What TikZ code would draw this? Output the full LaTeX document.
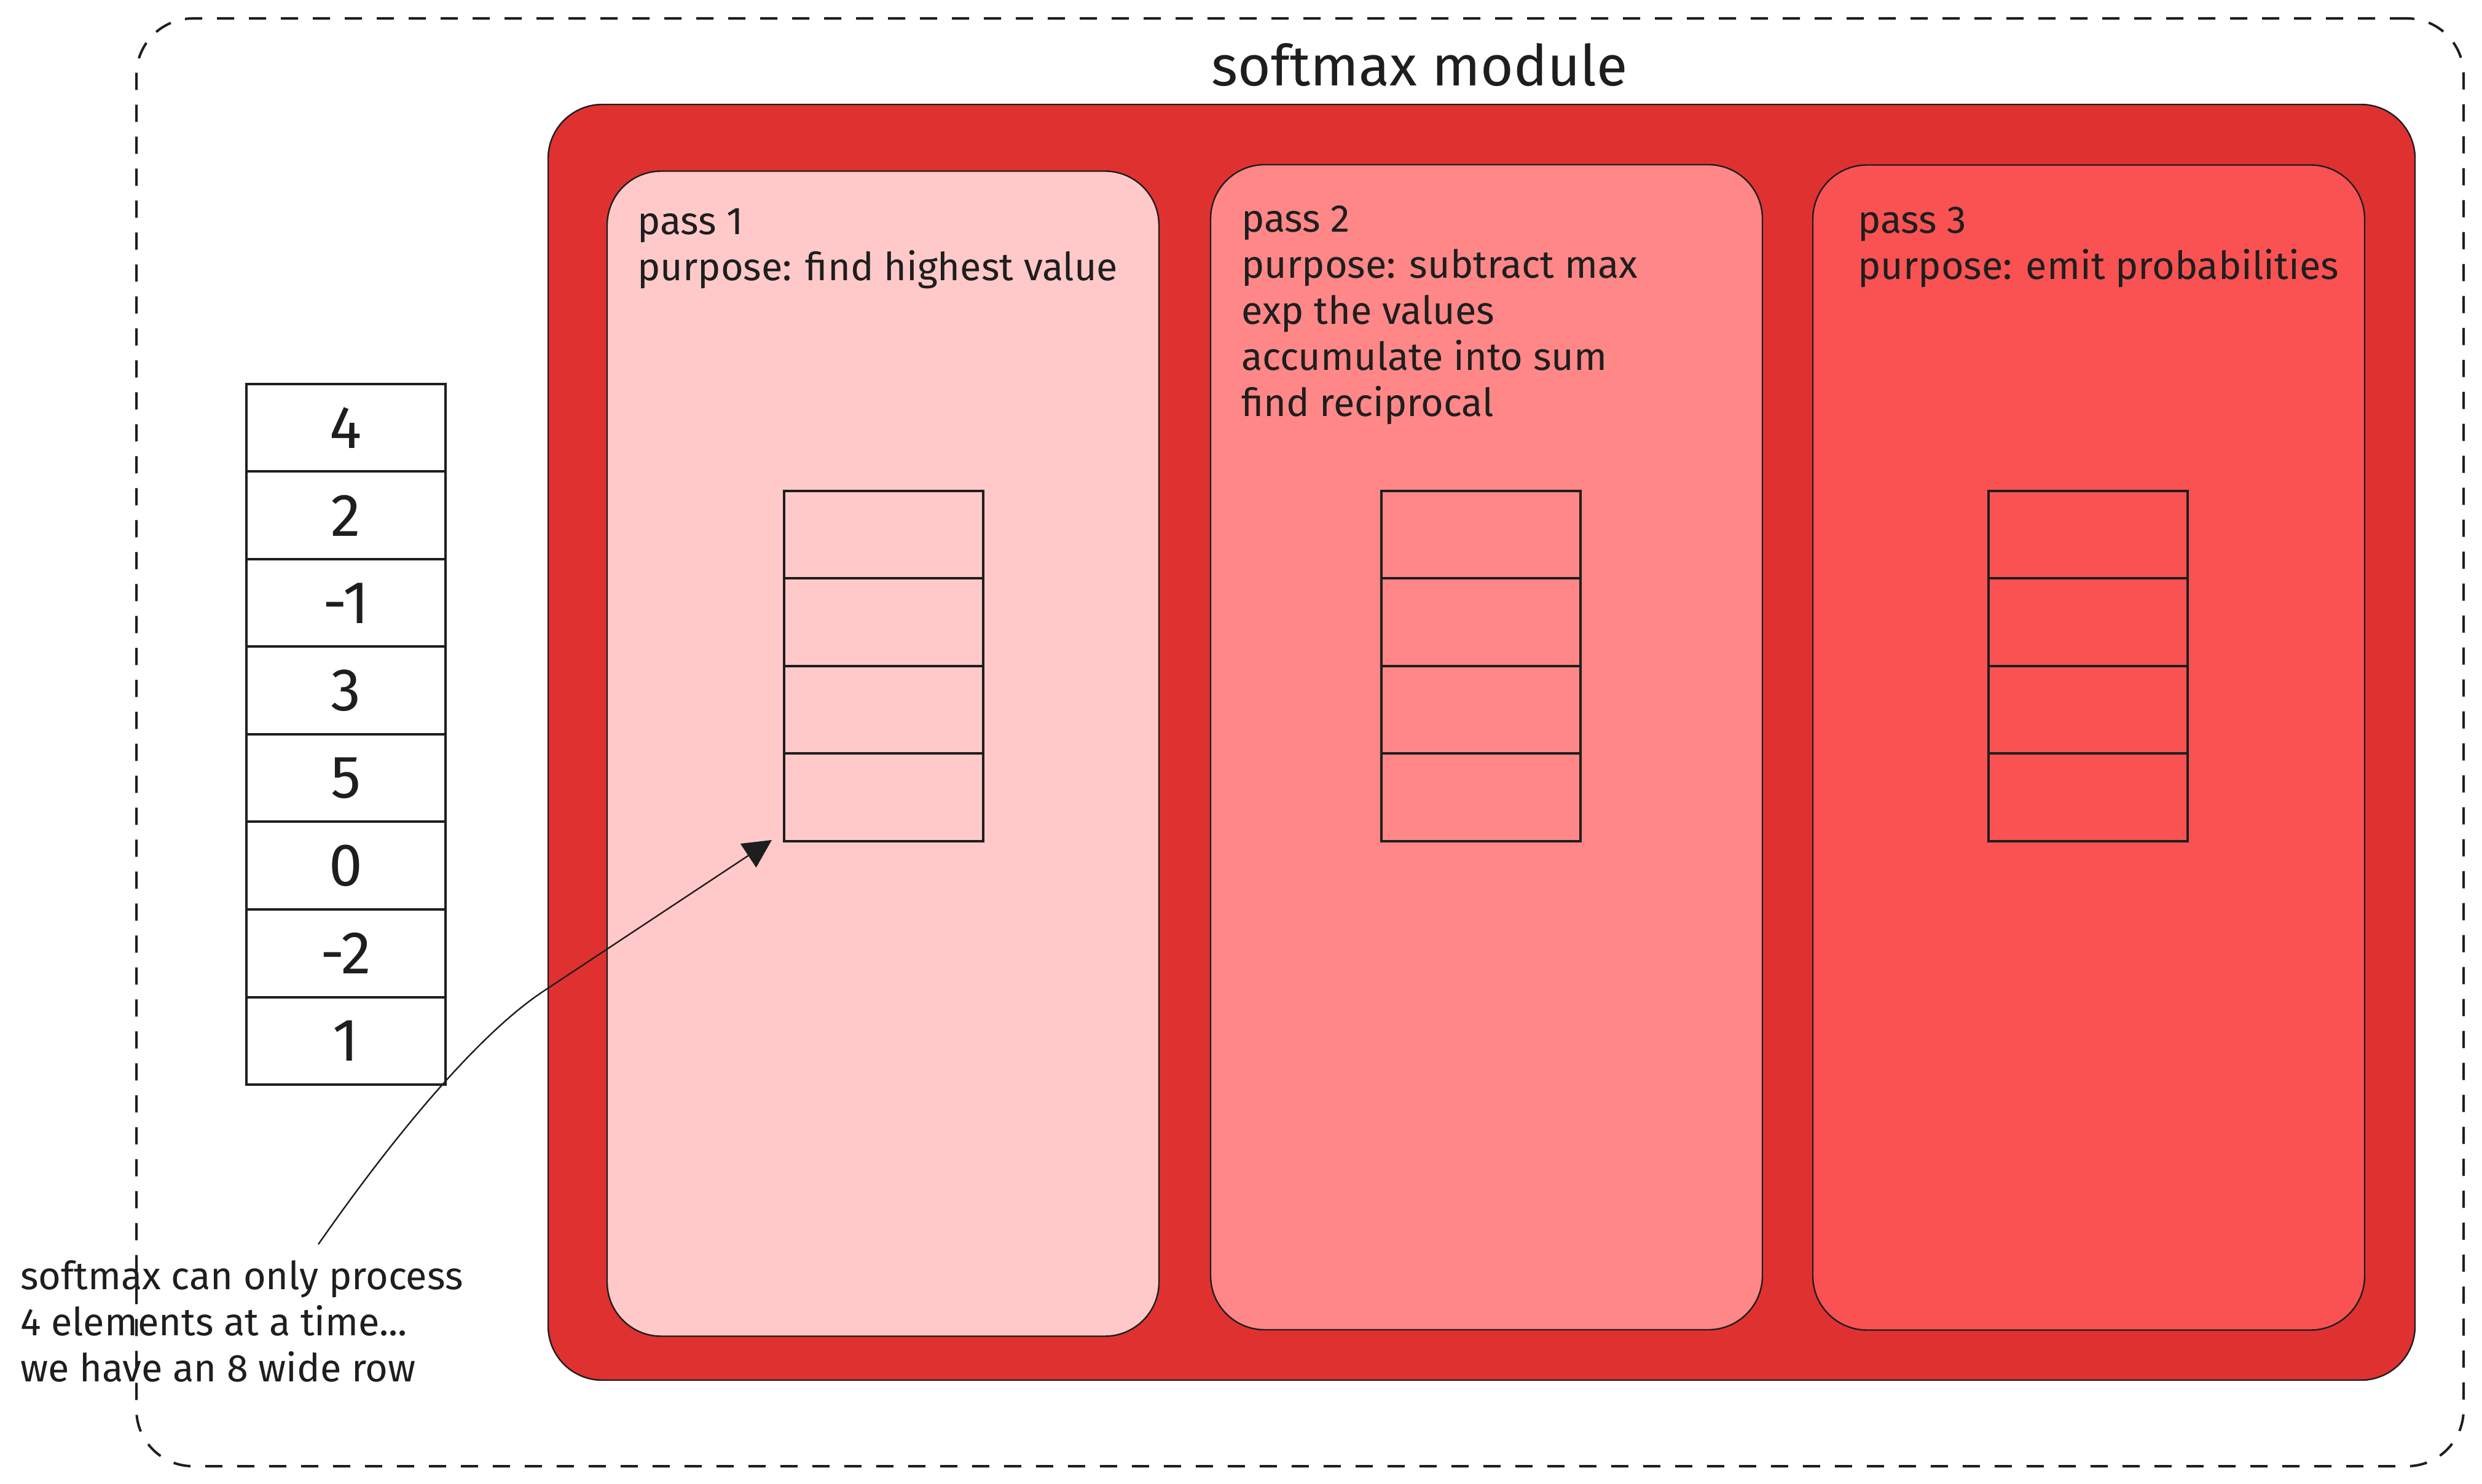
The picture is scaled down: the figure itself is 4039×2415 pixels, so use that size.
\documentclass[tikz,border=0pt]{standalone}
\usepackage{fontspec}
\setmainfont{Fira Sans}
\usetikzlibrary{arrows.meta}

\definecolor{ink}{HTML}{1E1E1E}
\definecolor{modred}{HTML}{E03131}
\definecolor{passone}{HTML}{FFC9C9}
\definecolor{passtwo}{HTML}{FF8787}
\definecolor{passthree}{HTML}{FA5252}

\tikzset{every picture/.style={line width=0.6pt}}
\tikzset{
	panel/.style={draw=ink, rounded corners=22pt, minimum width=224.5pt, minimum height=474pt, inner sep=0pt},
	cell/.style={draw=ink, line width=1pt, minimum width=81pt, minimum height=35.625pt, inner sep=0pt, text=ink, font=\fontsize{24.5}{28}\selectfont},
	note/.style={inner sep=0pt, align=left, text=ink, font=\fontsize{15.75}{18.75}\selectfont},
}

\begin{document}
\begin{tikzpicture}[x=0.25pt,y=0.25pt,yscale=-1,xscale=1]
	\useasboundingbox (0,0) rectangle (4039,2415);
	\fill[white] (0,0) rectangle (4039,2415);

	%Shape: Rounded Rect [dashed frame]
	\node[draw=ink, line width=1pt, dash pattern=on 7pt off 6pt, rounded corners=23pt, minimum width=946.75pt, minimum height=589pt, inner sep=0pt] (frame) at (2115.5,1208) {};
	%Shape: Rounded Rect [softmax module]
	\node[draw=ink, fill=modred, rounded corners=22pt, minimum width=759.5pt, minimum height=519pt, inner sep=0pt] (module) at (2411,1208) {};

	%Shape: Rounded Rect [passes]
	\node[panel, fill=passone] (pass1) at (1437,1226.5) {};
	\node[panel, fill=passtwo] (pass2) at (2419,1216) {};
	\node[panel, fill=passthree] (pass3) at (3399,1216.5) {};

	%Shape: Rect [4 wide buffer in each pass]
	\foreach \p/\cx in {1/1438,2/2410,3/3397.5}
		\foreach \k in {1,...,4}
			\node[cell] (p\p-c\k) at (\cx,{799+142.5*\k-71.25}) {};

	%Shape: Rect [8 wide row]
	\foreach \v [count=\i] in {4,2,-1,3,5,0,-2,1}
		\node[cell, fill=white] (row\i) at (563,{625+142.5*\i-71.25}) {\v};

	% Text Node
	\node[note, font=\fontsize{23}{26}\selectfont, anchor=base] (title) at (2310,140) {softmax module};
	% Text Node
	\node[note, anchor=base west] (txt1) at (1036,457) {pass 1\\purpose: find highest value};
	% Text Node
	\node[note, anchor=base west] (txt2) at (2019,678) {pass 2\\purpose: subtract max\\exp the values\\accumulate into sum\\find reciprocal};
	% Text Node
	\node[note, anchor=base west] (txt3) at (3022,455) {pass 3\\purpose: emit probabilities};
	% Text Node
	\node[note, anchor=base west] (remark) at (32,2248) {softmax can only process\\4 elements at a time...\\we have an 8 wide row};

	%Curve Lines [remark to buffer]
	\coordinate (remarkTip) at (518,2025);
	\draw[ink, -{Triangle[length=11.5pt,width=11.5pt]}] (remarkTip) .. controls (640,1850) and (780,1680) .. (889,1610) -- ([shift={(-18,-4)}]p1-c4.south west);

\end{tikzpicture}
\end{document}
